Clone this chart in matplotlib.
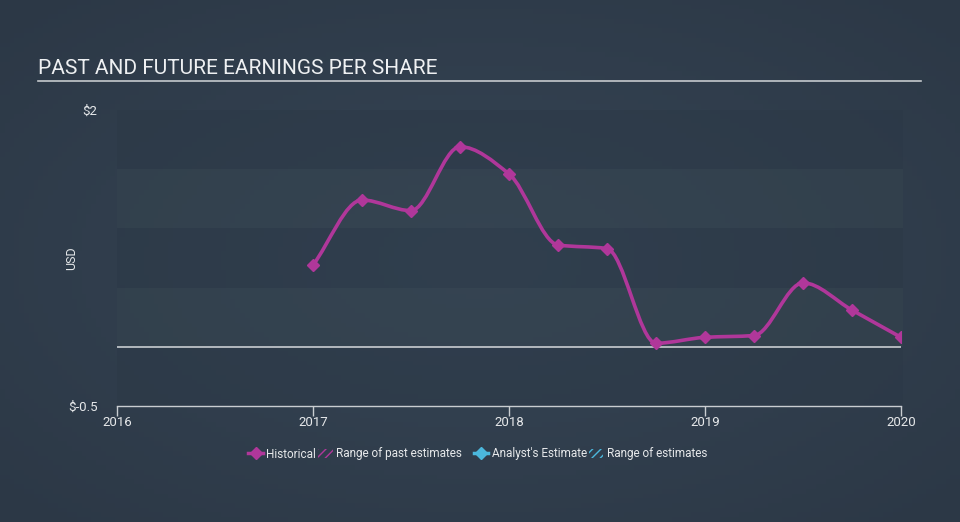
"""
Past and future earnings per share - recreation of the dark themed EPS chart.
"""
import numpy as np
import matplotlib
matplotlib.use("Agg")
import matplotlib.pyplot as plt
from matplotlib.path import Path
from matplotlib.patches import PathPatch, Patch
from matplotlib.lines import Line2D

# --- data -------------------------------------------------------------------
eps_dates = [2017.0, 2017.25, 2017.5, 2017.75, 2018.0, 2018.25, 2018.5,
             2018.75, 2019.0, 2019.25, 2019.5, 2019.75, 2020.0]
eps_values = [0.69, 1.24, 1.15, 1.69, 1.46, 0.86, 0.83,
              0.03, 0.08, 0.095, 0.54, 0.31, 0.08]
year_ticks = [2016, 2017, 2018, 2019, 2020]
y_ticks = [-0.5, 2]
y_tick_labels = ["$-0.5", "$2"]

BG = "#303e4d"
MAGENTA = "#b0379a"
CYAN = "#4bb8dd"
TXT = "#e6e8ea"
plt.rcParams["font.family"] = ["Roboto", "DejaVu Sans"]


def monotone_path(x, y):
    """monotone cubic (Fritsch-Carlson) as bezier segments, in data coords"""
    x, y = np.asarray(x, float), np.asarray(y, float)
    h = np.diff(x)
    d = np.diff(y) / h
    m = np.zeros_like(y)
    m[0], m[-1] = d[0], d[-1]
    for i in range(1, len(y) - 1):
        if d[i - 1] * d[i] <= 0:
            m[i] = 0.0
        else:
            w1, w2 = 2 * h[i] + h[i - 1], h[i] + 2 * h[i - 1]
            m[i] = (w1 + w2) / (w1 / d[i - 1] + w2 / d[i])
    verts = [(x[0], y[0])]
    codes = [Path.MOVETO]
    for i in range(len(x) - 1):
        verts += [(x[i] + h[i] / 3, y[i] + m[i] * h[i] / 3),
                  (x[i + 1] - h[i] / 3, y[i + 1] - m[i + 1] * h[i] / 3),
                  (x[i + 1], y[i + 1])]
        codes += [Path.CURVE4] * 3
    return Path(verts, codes)


fig = plt.figure(figsize=(9.6, 5.22), dpi=100)
fig.patch.set_facecolor(BG)

# soft radial background
bg = fig.add_axes([0, 0, 1, 1], zorder=-10)
gx, gy = np.meshgrid(np.linspace(-1, 1, 200), np.linspace(-1, 1, 110))
r = np.clip(np.sqrt(gx ** 2 + gy ** 2) / 1.4, 0, 1)
c0 = np.array([0x36, 0x45, 0x55]) / 255
c1 = np.array([0x2c, 0x38, 0x46]) / 255
img = c0[None, None, :] * (1 - r[..., None]) + c1[None, None, :] * r[..., None]
bg.imshow(img, aspect="auto", extent=[0, 1, 0, 1])
bg.axis("off")

ax = fig.add_axes([117 / 960, 1 - 406 / 522, 784 / 960, 296 / 522])
ax.set_facecolor("none")
ax.set_xlim(2016, 2020)
ax.set_ylim(-0.5, 2)

# alternating bands
for k, lo in enumerate(np.arange(-0.5, 2, 0.5)):
    col = "#2b3846" if k % 2 == 0 else "#36454f"
    ax.axhspan(lo, lo + 0.5, xmin=0, xmax=1.003, color=col, alpha=0.45, lw=0, zorder=0, clip_on=False)

ax.axhline(0, color="#c9cdd1", lw=1.2, zorder=1)

ax.add_patch(PathPatch(monotone_path(eps_dates, eps_values), fill=False,
                       ec=MAGENTA, lw=2.6, capstyle="round", zorder=3))
ax.plot(eps_dates, eps_values, ls="none", marker="D", ms=6, color=MAGENTA, zorder=4)

for s in ["top", "right", "left"]:
    ax.spines[s].set_visible(False)
ax.spines["bottom"].set_color("#c9cdd1")
ax.spines["bottom"].set_linewidth(1)
ax.set_xticks(year_ticks)
ax.set_xticklabels([str(t) for t in year_ticks])
ax.tick_params(axis="x", colors="#c9cdd1", labelcolor=TXT, labelsize=9.5, length=7, width=1, pad=0)
ax.set_yticks(y_ticks)
ax.set_yticklabels(y_tick_labels)
ax.tick_params(axis="y", length=0, labelcolor=TXT, labelsize=9.5, pad=14)
ax.set_ylabel("USD", color=TXT, fontsize=9)
ax.yaxis.set_label_coords((78 - 117) / 784, 0.5)

# title
fig.text(38 / 960, 1 - 68 / 522, "PAST AND FUTURE EARNINGS PER SHARE", color="#eef0f2",
         fontsize=15, va="center", ha="left")
fig.add_artist(Line2D([38 / 960, 921 / 960], [1 - 81 / 522] * 2, color="#c5c9cd", lw=1.2))

# legend, two groups
leg_kw = dict(ncol=2, frameon=False, fontsize=8.5, labelcolor=TXT, borderpad=0, borderaxespad=0,
              handlelength=1.2, handleheight=0.8, handletextpad=0.3, columnspacing=0.2)
hist_handles = [Line2D([], [], color=MAGENTA, lw=2.5, marker="D", ms=6),
                Patch(facecolor="none", edgecolor=MAGENTA, hatch="////", lw=0)]
est_handles = [Line2D([], [], color=CYAN, lw=2.5, marker="D", ms=6),
               Patch(facecolor="none", edgecolor=CYAN, hatch="////", lw=0)]
leg1 = fig.legend(hist_handles, ["Historical", "Range of past estimates"], loc="center right",
                  bbox_to_anchor=(462 / 960, 1 - 454 / 522), **leg_kw)
leg2 = fig.legend(est_handles, ["Analyst's Estimate", "Range of estimates"], loc="center left",
                  bbox_to_anchor=(474 / 960, 1 - 454 / 522), **leg_kw)

fig.savefig("out.png", dpi=100, facecolor=fig.get_facecolor())
